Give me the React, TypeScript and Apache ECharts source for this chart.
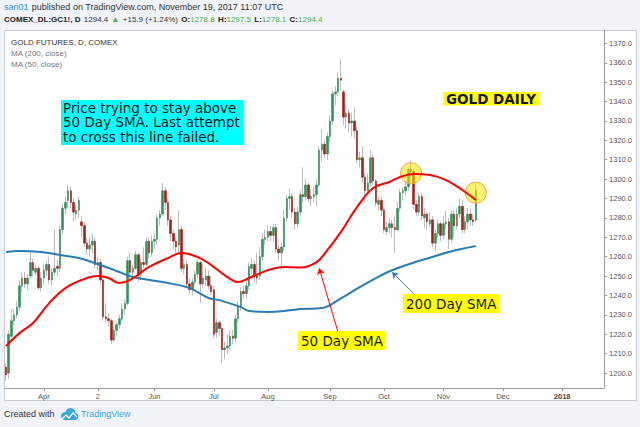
import { useEffect, useRef } from "react";
import * as echarts from "echarts";

const SANS = "'Liberation Sans', Arial, sans-serif";
const VERDANA = "'DejaVu Sans', Verdana, sans-serif";

// trading calendar
const startDate = "2017-03-14";
const holidays = ["2017-04-14", "2017-05-29", "2017-07-04", "2017-09-04"];
const categoryCount = 222;

// [open, close, low, high]
const ohlc: number[][] = [
  [1203, 1199, 1196, 1205], [1200, 1220, 1197, 1222], [1219, 1227, 1218, 1233], [1227, 1230, 1225, 1233],
  [1230, 1234, 1228, 1237], [1234, 1245, 1232, 1248], [1245, 1249, 1242, 1252], [1249, 1246, 1244, 1252],
  [1246, 1249, 1243, 1251], [1250, 1257, 1249, 1263], [1257, 1253, 1250, 1259], [1252, 1254, 1250, 1256],
  [1254, 1244, 1243, 1255], [1244, 1249, 1242, 1252],
  [1249, 1253, 1246, 1256], [1253, 1256, 1250, 1258], [1256, 1248, 1246, 1260], [1248, 1252, 1245, 1254],
  [1252, 1254, 1250, 1274], [1255, 1254, 1250, 1258], [1254, 1274, 1252, 1276], [1274, 1285, 1272, 1287],
  [1285, 1288, 1282, 1291], [1289, 1294, 1285, 1297], [1294, 1288, 1285, 1296], [1288, 1283, 1278, 1290],
  [1282, 1284, 1279, 1287], [1284, 1289, 1280, 1291], [1278, 1276, 1270, 1281], [1276, 1267, 1265, 1278],
  [1267, 1264, 1261, 1270], [1264, 1266, 1260, 1270], [1266, 1268, 1262, 1272],
  [1268, 1256, 1254, 1270], [1256, 1257, 1253, 1260], [1257, 1248, 1246, 1259], [1248, 1229, 1227, 1249],
  [1229, 1228, 1226, 1236], [1228, 1227, 1224, 1231], [1227, 1217, 1215, 1228], [1217, 1222, 1216, 1224],
  [1222, 1225, 1219, 1226], [1225, 1228, 1223, 1230], [1228, 1233, 1227, 1236], [1233, 1236, 1230, 1238],
  [1236, 1258, 1235, 1260], [1258, 1252, 1247, 1262], [1252, 1254, 1248, 1256], [1254, 1261, 1253, 1263],
  [1261, 1251, 1247, 1262], [1251, 1257, 1248, 1259], [1257, 1256, 1254, 1265], [1256, 1268, 1255, 1270],
  [1268, 1262, 1259, 1270], [1262, 1268, 1260, 1271],
  [1268, 1269, 1264, 1272], [1269, 1280, 1266, 1282], [1280, 1282, 1276, 1284], [1282, 1294, 1281, 1298],
  [1294, 1288, 1284, 1296], [1288, 1279, 1276, 1290], [1279, 1272, 1268, 1281], [1272, 1268, 1264, 1274],
  [1268, 1265, 1262, 1270], [1266, 1274, 1262, 1284], [1274, 1254, 1252, 1276], [1254, 1256, 1251, 1259],
  [1256, 1246, 1244, 1258], [1246, 1243, 1241, 1249], [1243, 1247, 1240, 1249], [1247, 1251, 1245, 1253],
  [1251, 1257, 1249, 1259], [1257, 1246, 1236, 1258], [1246, 1249, 1244, 1256], [1248, 1250, 1245, 1254],
  [1250, 1245, 1243, 1253], [1245, 1242, 1240, 1250],
  [1243, 1220, 1218, 1245], [1221, 1226, 1218, 1228], [1226, 1223, 1219, 1227], [1223, 1212, 1205, 1224],
  [1212, 1213, 1207, 1216], [1213, 1214, 1210, 1220], [1214, 1219, 1212, 1222], [1219, 1218, 1215, 1222],
  [1218, 1228, 1216, 1230], [1228, 1234, 1226, 1237], [1234, 1242, 1232, 1244], [1242, 1241, 1238, 1245],
  [1241, 1245, 1238, 1248], [1245, 1255, 1243, 1257], [1254, 1256, 1251, 1259], [1256, 1250, 1247, 1258],
  [1250, 1249, 1246, 1262], [1250, 1260, 1248, 1265], [1260, 1269, 1258, 1272], [1269, 1270, 1266, 1274],
  [1270, 1273, 1268, 1276], [1273, 1271, 1268, 1276], [1271, 1275, 1268, 1277], [1275, 1264, 1262, 1277],
  [1264, 1262, 1258, 1266], [1262, 1265, 1255, 1267], [1265, 1280, 1263, 1284], [1280, 1290, 1278, 1292],
  [1290, 1291, 1284, 1295], [1291, 1283, 1280, 1293], [1283, 1277, 1274, 1285], [1277, 1283, 1275, 1286],
  [1283, 1292, 1281, 1294], [1292, 1291, 1288, 1306], [1291, 1297, 1289, 1300], [1297, 1290, 1288, 1298],
  [1290, 1291, 1286, 1295], [1291, 1292, 1288, 1296], [1292, 1297, 1286, 1300], [1297, 1315, 1296, 1317],
  [1315, 1318, 1309, 1326], [1318, 1313, 1311, 1320], [1313, 1322, 1310, 1324],
  [1322, 1330, 1319, 1333], [1330, 1344, 1328, 1346], [1344, 1345, 1338, 1348], [1345, 1352, 1343, 1355],
  [1352, 1351, 1346, 1362], [1345, 1332, 1328, 1346], [1332, 1334, 1326, 1338], [1334, 1329, 1324, 1336],
  [1329, 1330, 1322, 1334], [1330, 1325, 1321, 1337], [1325, 1310, 1308, 1327], [1310, 1311, 1306, 1314],
  [1311, 1301, 1298, 1317], [1301, 1294, 1288, 1303], [1294, 1298, 1293, 1303], [1298, 1311, 1296, 1315],
  [1311, 1299, 1297, 1313], [1299, 1288, 1286, 1300], [1287, 1289, 1284, 1291], [1289, 1284, 1281, 1291],
  [1284, 1274, 1272, 1285], [1273, 1275, 1271, 1278], [1275, 1277, 1272, 1280], [1277, 1275, 1270, 1279],
  [1275, 1274, 1262, 1281], [1274, 1285, 1273, 1288], [1285, 1293, 1283, 1295], [1293, 1294, 1289, 1296],
  [1294, 1296, 1291, 1299], [1296, 1305, 1294, 1306], [1305, 1304, 1298, 1310], [1304, 1287, 1284, 1305],
  [1287, 1283, 1281, 1289], [1283, 1291, 1281, 1293], [1291, 1281, 1279, 1293], [1280, 1282, 1275, 1285],
  [1282, 1278, 1274, 1283], [1277, 1279, 1275, 1283], [1279, 1267, 1265, 1281], [1267, 1272, 1263, 1274],
  [1272, 1277, 1270, 1279], [1277, 1271, 1268, 1278],
  [1271, 1277, 1269, 1281], [1277, 1278, 1274, 1284], [1278, 1269, 1264, 1280], [1269, 1282, 1267, 1284],
  [1282, 1276, 1270, 1284], [1276, 1282, 1274, 1285], [1282, 1286, 1280, 1290], [1286, 1274, 1272, 1289],
  [1274, 1278, 1272, 1281], [1278, 1282, 1274, 1285], [1282, 1279, 1276, 1285], [1279, 1278, 1276, 1282],
  [1278.8, 1294.4, 1278.1, 1297.5],
];

// moving averages: [bar index, value]
const ma50: number[][] = [
  [0, 1213.9], [5, 1220.6], [10, 1225.8], [16, 1236.1], [22, 1243.8], [28, 1248.0], [34, 1250.0],
  [38, 1249.0], [42, 1246.4], [46, 1248.0], [53, 1254.7], [60, 1259.3], [65, 1261.9], [71, 1259.8],
  [75, 1256.7], [82, 1249.5], [86, 1246.9], [90, 1249.0], [97, 1253.1], [103, 1254.7], [109, 1254.4],
  [115, 1257.2], [119, 1263.4], [124, 1272.7], [130, 1285.6], [136, 1295.4], [142, 1298.5], [146, 1301.1],
  [151, 1302.6], [157, 1302.1], [163, 1299.5], [169, 1294.4], [174, 1289.2],
];
const ma200: number[][] = [
  [0, 1262.4], [5, 1262.9], [13, 1262.4], [20, 1260.9], [27, 1259.3], [35, 1255.7], [42, 1252.1],
  [47, 1249.5], [60, 1246.4], [68, 1243.8], [75, 1238.7], [79, 1237.6], [87, 1234.0], [90, 1232.0],
  [97, 1231.5], [103, 1232.0], [109, 1233.0], [117, 1233.5], [124, 1238.5], [130, 1243.5], [137, 1249.0],
  [143, 1253.0], [150, 1256.5], [157, 1259.5], [165, 1262.8], [174, 1265.5],
];

const yTicks = [1200, 1210, 1220, 1230, 1240, 1250, 1260, 1270, 1280, 1290, 1300, 1310, 1320, 1330, 1340, 1350, 1360, 1370];
const yMin = 1192.3;
const yMax = 1376.9;
const xTickDates = ["2017-04-03", "2017-05-02", "2017-06-01", "2017-07-03", "2017-08-01", "2017-09-01", "2017-10-02", "2017-11-01", "2017-12-01", "2018-01-02"];
const xTickLabels = ["Apr", "2", "Jun", "Jul", "Aug", "Sep", "Oct", "Nov", "Dec", "2018"];

const lastPrice = 1294.4;
const circleMarks: number[][] = [[150, 1303], [174, 1293]];
const arrow50: number[][] = [[123, 1221], [116, 1254]];
const arrow200: number[][] = [[151, 1241], [143, 1252]];

function buildDates(): string[] {
  const out: string[] = [];
  const [y, m, d0] = startDate.split("-").map(Number);
  const d = new Date(Date.UTC(y, m - 1, d0));
  while (out.length < categoryCount) {
    const wd = d.getUTCDay();
    const s = d.toISOString().slice(0, 10);
    if (wd !== 0 && wd !== 6 && holidays.indexOf(s) < 0) out.push(s);
    d.setUTCDate(d.getUTCDate() + 1);
  }
  return out;
}

function buildOption() {
  const dates = buildDates();
  const labelMap: Record<string, string> = {};
  xTickDates.forEach((dt, k) => (labelMap[dt] = xTickLabels[k]));
  const isTick = (i: number) => labelMap[dates[i]] !== undefined;

  const wickData = ohlc.map((r) => [r[0], r[1], r[2], r[3]]);
  const bodyData = ohlc.map((r) => [r[0], r[1], Math.min(r[0], r[1]), Math.max(r[0], r[1])]);
  const up = "#33905a";
  const down = "#a51e1a";
  const wick = "#bdbdbd";

  const boxText = (x: number, y: number, text: string, bg: string, size: number, weight: string, lh: number, pad: number[]) => ({
    type: "text",
    x,
    y,
    z: 20,
    silent: true,
    style: {
      text,
      fill: "#161616",
      fontFamily: VERDANA,
      fontSize: size,
      fontWeight: weight,
      lineHeight: lh,
      backgroundColor: bg,
      padding: pad,
      align: "left",
      verticalAlign: "top",
    },
  });

  return {
    animation: false,
    backgroundColor: "#f0f3f7",
    grid: { left: 4.65, top: 30, width: 599.4, height: 358 },
    xAxis: {
      type: "category",
      data: dates,
      boundaryGap: true,
      axisLine: { show: true, lineStyle: { color: "#9c9c9c", width: 1 } },
      axisTick: { show: true, interval: (i: number) => isTick(i), alignWithLabel: true, length: 3, lineStyle: { color: "#9c9c9c" } },
      axisLabel: {
        interval: (i: number) => isTick(i),
        formatter: (v: string) => {
          const t = labelMap[v] || "";
          return t === "2018" ? "{y|" + t + "}" : t;
        },
        color: "#555",
        fontFamily: SANS,
        fontSize: 7.5,
        margin: 4,
        rich: { y: { fontWeight: "bold", color: "#444", fontFamily: SANS, fontSize: 7.5 } },
      },
      splitLine: { show: false },
    },
    yAxis: {
      type: "value",
      position: "right",
      min: yMin,
      max: yMax,
      scale: true,
      axisLine: { show: true, lineStyle: { color: "#9c9c9c", width: 1 } },
      axisTick: { show: true, length: 3, customValues: yTicks, lineStyle: { color: "#9c9c9c" } },
      axisLabel: {
        customValues: yTicks,
        formatter: (v: number) => v.toFixed(1),
        color: "#555",
        fontFamily: SANS,
        fontSize: 7.5,
        margin: 5,
      },
      splitLine: { show: false },
    },
    series: [
      {
        type: "candlestick",
        name: "wick",
        data: wickData,
        barWidth: 1,
        z: 2,
        itemStyle: { color: wick, color0: wick, borderColor: wick, borderColor0: wick, borderWidth: 1 },
      },
      {
        type: "candlestick",
        name: "body",
        data: bodyData,
        barWidth: 2,
        z: 3,
        itemStyle: { color: up, color0: down, borderColor: up, borderColor0: down, borderWidth: 0.6 },
        markLine: {
          silent: true,
          symbol: ["none", "none"],
          lineStyle: { opacity: 0 },
          label: {
            show: true,
            position: "end",
            formatter: lastPrice.toFixed(1),
            backgroundColor: "#5a9f7d",
            color: "#fff",
            fontFamily: SANS,
            fontSize: 7.5,
            padding: [2, 3, 1, 4],
            distance: 0,
          },
          data: [{ yAxis: lastPrice }],
        },
      },
      {
        type: "line",
        name: "MA200",
        data: ma200.map((p) => [dates[p[0]], p[1]]),
        symbol: "none",
        smooth: 0.4,
        z: 4,
        lineStyle: { color: "#2b7cb3", width: 2 },
        markLine: {
          silent: true,
          symbol: ["none", "arrow"],
          symbolSize: 6,
          lineStyle: { color: "#3a78d8", width: 1, type: "solid" },
          label: { show: false },
          data: [[{ coord: [dates[arrow200[0][0]], arrow200[0][1]] }, { coord: [dates[arrow200[1][0]], arrow200[1][1]] }]],
        },
      },
      {
        type: "line",
        name: "MA50",
        data: ma50.map((p) => [dates[p[0]], p[1]]),
        symbol: "none",
        smooth: 0.4,
        z: 5,
        lineStyle: { color: "#ff0000", width: 2 },
        markLine: {
          silent: true,
          symbol: ["none", "arrow"],
          symbolSize: 6,
          lineStyle: { color: "#ff0000", width: 1, type: "solid" },
          label: { show: false },
          data: [[{ coord: [dates[arrow50[0][0]], arrow50[0][1]] }, { coord: [dates[arrow50[1][0]], arrow50[1][1]] }]],
        },
        markPoint: {
          silent: true,
          symbol: "circle",
          symbolSize: 21,
          itemStyle: { color: "rgba(255,232,0,0.55)", borderColor: "#f2a33a", borderWidth: 1 },
          label: { show: false },
          data: circleMarks.map((c) => ({ coord: [dates[c[0]], c[1]] })),
        },
      },
    ],
    graphic: [
      {
        type: "rect",
        z: 0,
        silent: true,
        shape: { x: 4.5, y: 30.5, width: 632, height: 370 },
        style: { fill: "#ffffff", stroke: "#c8ccd2", lineWidth: 1 },
      },
      {
        type: "text",
        x: 4,
        y: 7,
        silent: true,
        style: {
          text: "{a|san01} {b|published on TradingView.com, November 19, 2017 11:07 UTC}",
          verticalAlign: "middle",
          rich: {
            a: { fill: "#2a9be6", fontFamily: SANS, fontSize: 9 },
            b: { fill: "#333", fontFamily: SANS, fontSize: 9 },
          },
        },
      },
      {
        type: "text",
        x: 4,
        y: 19,
        silent: true,
        style: {
          text: "{b|COMEX_DL:GC1!, D} {n|1294.4} {g|▲} {n|+15.9 (+1.24%)} {b|O:}{g|1278.8} {b|H:}{g|1297.5} {b|L:}{g|1278.1} {b|C:}{g|1294.4}",
          verticalAlign: "middle",
          rich: {
            b: { fill: "#222", fontFamily: SANS, fontSize: 8, fontWeight: "bold" },
            n: { fill: "#333", fontFamily: SANS, fontSize: 8 },
            g: { fill: "#4caf50", fontFamily: SANS, fontSize: 8 },
          },
        },
      },
      { type: "text", x: 11, y: 42, z: 20, silent: true, style: { text: "GOLD FUTURES, D, COMEX", fill: "#333", fontFamily: SANS, fontSize: 8, verticalAlign: "middle" } },
      { type: "text", x: 11, y: 53, z: 20, silent: true, style: { text: "MA (200, close)", fill: "#777", fontFamily: SANS, fontSize: 8, verticalAlign: "middle" } },
      { type: "text", x: 11, y: 64, z: 20, silent: true, style: { text: "MA (50, close)", fill: "#777", fontFamily: SANS, fontSize: 8, verticalAlign: "middle" } },
      boxText(61, 100, "Price trying to stay above\n50 Day SMA. Last attempt\nto cross this line failed.", "#00ffff", 13.5, "normal", 14.3, [1, 4, 1, 2]),
      boxText(443, 92, "GOLD DAILY", "#ffff00", 13.5, "bold", 13.5, [0, 3, 0, 3]),
      boxText(298, 331, "50 Day SMA", "#ffff00", 13.5, "normal", 15, [2, 3, 2, 3]),
      boxText(403, 294, "200 Day SMA", "#ffff00", 13.5, "normal", 15, [2, 3, 2, 3]),
      { type: "text", x: 4, y: 414, silent: true, style: { text: "Created with", fill: "#333", fontFamily: SANS, fontSize: 9, verticalAlign: "middle" } },
      { type: "circle", silent: true, shape: { cx: 65, cy: 416, r: 4 }, style: { fill: "#3ca6dc" } },
      { type: "circle", silent: true, shape: { cx: 70.5, cy: 413, r: 5 }, style: { fill: "#3ca6dc" } },
      { type: "circle", silent: true, shape: { cx: 75, cy: 416.5, r: 3.5 }, style: { fill: "#3ca6dc" } },
      { type: "rect", silent: true, shape: { x: 65, y: 415, width: 10, height: 5 }, style: { fill: "#3ca6dc" } },
      {
        type: "polyline",
        silent: true,
        shape: { points: [[62, 419], [66, 415], [69, 418], [73, 413], [77, 417]] },
        style: { stroke: "#ffffff", lineWidth: 1.2, fill: "none" },
      },
      { type: "text", x: 81, y: 414, silent: true, style: { text: "TradingView", fill: "#3ca6dc", fontFamily: SANS, fontSize: 9, verticalAlign: "middle" } },
    ],
  };
}

export default function App() {
  const ref = useRef<HTMLDivElement>(null);
  useEffect(() => {
    if (!ref.current) return;
    const chart = echarts.init(ref.current, undefined, { renderer: "svg", width: 640, height: 427 });
    chart.setOption(buildOption() as any);
    return () => chart.dispose();
  }, []);
  return <div ref={ref} style={{ position: "fixed", left: 0, top: 0, width: 640, height: 427 }} />;
}
